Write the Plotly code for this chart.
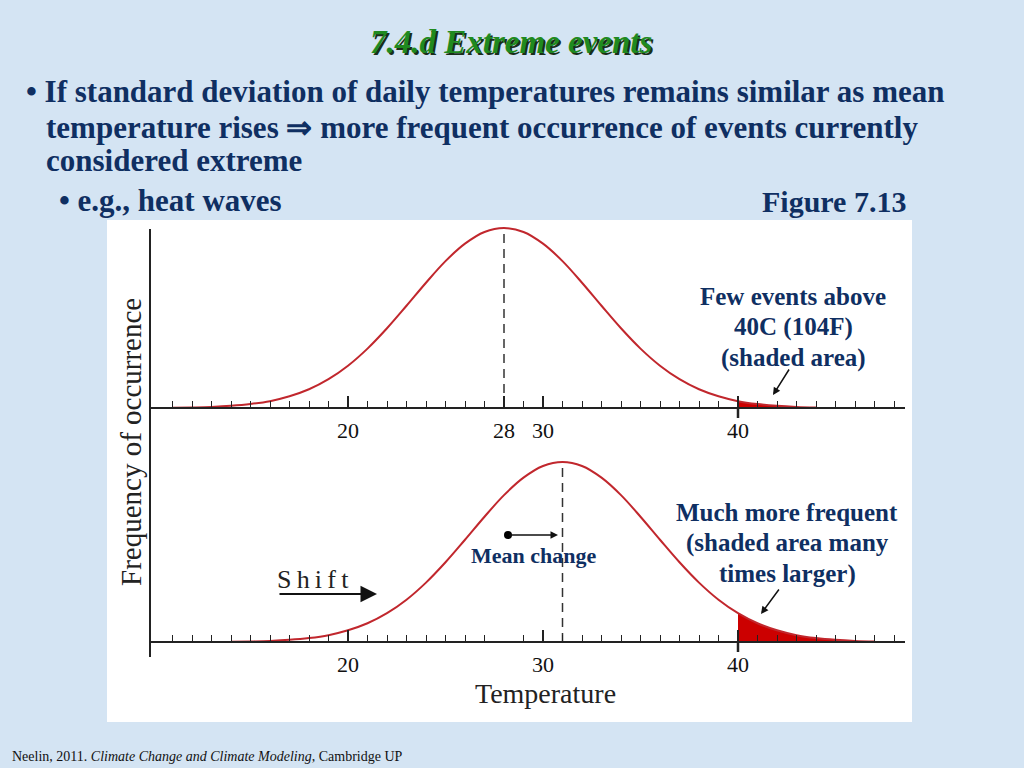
import plotly.graph_objects as go

# ---------------- data ----------------
temps_now = [11, 12, 13, 14, 15, 16, 17, 18, 19, 20, 21, 22, 23, 24, 25, 26, 27, 28,
             29, 30, 31, 32, 33, 34, 35, 36, 37, 38, 39, 40, 41, 42, 43, 44]
freq_now = [0.001, 0.003, 0.006, 0.012, 0.022, 0.038, 0.065, 0.104, 0.160, 0.235,
            0.330, 0.443, 0.568, 0.696, 0.816, 0.913, 0.978, 1.000, 0.978, 0.913,
            0.816, 0.696, 0.568, 0.443, 0.330, 0.235, 0.160, 0.104, 0.065, 0.038,
            0.022, 0.012, 0.006, 0.003]

temps_future = [14, 15, 16, 17, 18, 19, 20, 21, 22, 23, 24, 25, 26, 27, 28, 29, 30, 31,
                32, 33, 34, 35, 36, 37, 38, 39, 40, 41, 42, 43, 44, 45, 46, 47]
freq_future = [0.001, 0.003, 0.006, 0.012, 0.022, 0.038, 0.065, 0.104, 0.160, 0.235,
               0.330, 0.443, 0.568, 0.696, 0.816, 0.913, 0.978, 1.000, 0.978, 0.913,
               0.816, 0.696, 0.568, 0.443, 0.330, 0.235, 0.160, 0.104, 0.065, 0.038,
               0.022, 0.012, 0.006, 0.003]

mean_now = 28
mean_future = 31
threshold = 40

top_tickvals = [20, 28, 30, 40]
top_ticktext = ["20", "28", "30", "40"]
bottom_tickvals = [20, 30, 40]
bottom_ticktext = ["20", "30", "40"]
minor_ticks = [11, 12, 13, 14, 15, 16, 17, 18, 19, 21, 22, 23, 24, 25, 26, 27, 29,
               31, 32, 33, 34, 35, 36, 37, 38, 39, 41, 42, 43, 44, 45, 46, 47, 48]

# ---------------- layout helpers ----------------
W, H = 1024, 768
def X(px):
    return px / W
def Y(py):
    return 1 - py / H

PX_PER_UNIT = 19.5
def val_at(px):
    return 20 + (px - 348) / PX_PER_UNIT

x_range = [val_at(150), val_at(905)]
x_domain = [X(150), X(905)]

top_base, bot_base, height_px = 408, 642, 180
top_dom = [Y(422), Y(222)]
top_rng = [(top_base - 422) / height_px, (top_base - 222) / height_px]
bot_dom = [Y(660), Y(455)]
bot_rng = [(bot_base - 660) / height_px, (bot_base - 455) / height_px]

CURVE = "#c1272d"
FILL = "#cc0000"
NAVY = "#0f2f62"
SERIF = "Liberation Serif"

fig = go.Figure()

def add_panel(temps, freq, mean, xa, ya):
    sub_x = [t for t in temps if t >= threshold]
    sub_y = [f for t, f in zip(temps, freq) if t >= threshold]
    fig.add_trace(go.Scatter(x=sub_x, y=sub_y, mode="lines", fill="tozeroy",
                             fillcolor=FILL, line=dict(width=0, shape="spline", color=FILL),
                             xaxis=xa, yaxis=ya, hoverinfo="skip", showlegend=False))
    fig.add_trace(go.Scatter(x=temps, y=freq, mode="lines",
                             line=dict(color=CURVE, width=2, shape="spline"),
                             xaxis=xa, yaxis=ya, hoverinfo="skip", showlegend=False))
    peak = max(freq)
    fig.add_trace(go.Scatter(x=[mean, mean], y=[0, peak], mode="lines",
                             line=dict(color="#333333", width=1.5, dash="9px,6px"),
                             xaxis=xa, yaxis=ya, hoverinfo="skip", showlegend=False))
    # threshold tick extending below axis
    fig.add_trace(go.Scatter(x=[threshold, threshold], y=[0, -10 / height_px], mode="lines",
                             line=dict(color="#222222", width=2.5),
                             xaxis=xa, yaxis=ya, hoverinfo="skip", showlegend=False))

add_panel(temps_now, freq_now, mean_now, "x", "y")
add_panel(temps_future, freq_future, mean_future, "x2", "y2")

# mean change dot
fig.add_trace(go.Scatter(x=[val_at(508)], y=[(bot_base - 535) / height_px], mode="markers",
                         marker=dict(color="black", size=8), xaxis="x2", yaxis="y2",
                         hoverinfo="skip", showlegend=False))

axis_common = dict(domain=x_domain, range=x_range, anchor="free", showline=True,
                   linecolor="#222222", linewidth=2, ticks="inside", ticklen=11,
                   tickwidth=1.5, tickcolor="#222222", showgrid=False, zeroline=False,
                   tickfont=dict(family=SERIF, size=22, color="#111111"),
                   ticklabelstandoff=3,
                   minor=dict(tickmode="array", tickvals=minor_ticks, ticks="inside",
                              ticklen=6, tickwidth=1.3, tickcolor="#222222", showgrid=False))

fig.update_layout(
    width=W, height=H, margin=dict(l=0, r=0, t=0, b=0),
    paper_bgcolor="#d4e4f3", plot_bgcolor="rgba(0,0,0,0)",
    xaxis=dict(**axis_common, position=Y(top_base), tickvals=top_tickvals,
               ticktext=top_ticktext),
    yaxis=dict(domain=top_dom, range=top_rng, visible=False, anchor="x"),
    xaxis2=dict(**axis_common, position=Y(bot_base), tickvals=bottom_tickvals,
                ticktext=bottom_ticktext),
    yaxis2=dict(domain=bot_dom, range=bot_rng, visible=False, anchor="x2"),
    showlegend=False,
)

# white figure panel and y axis line
fig.add_shape(type="rect", xref="paper", yref="paper", x0=X(107), x1=X(912), y0=Y(722), y1=Y(220),
              fillcolor="white", line=dict(width=0), layer="below")
fig.add_shape(type="line", xref="paper", yref="paper", x0=X(150), x1=X(150), y0=Y(657), y1=Y(229),
              line=dict(color="#222222", width=2))

ann = []
def text_ann(t, px, py, size, color, xanchor="center", angle=0):
    ann.append(dict(text=t, x=X(px), y=Y(py), xref="paper", yref="paper",
                    xanchor=xanchor, yanchor="middle", textangle=angle, showarrow=False,
                    font=dict(family=SERIF, size=size, color=color)))

# title with shadow
text_ann("<b><i>7.4.d Extreme events</i></b>", 513, 44, 33, "#1a2e1a")
text_ann("<b><i>7.4.d Extreme events</i></b>", 511, 42, 33, "#1f8a1f")

bullets = [
    (24, 92, "• If standard deviation of daily temperatures remains similar as mean"),
    (44, 127, "temperature rises ⇒ more frequent occurrence of events currently"),
    (44, 161, "considered extreme"),
    (57, 200, "• e.g., heat waves"),
]
for bx, by, t in bullets:
    text_ann("<b>" + t + "</b>", bx, by, 31, NAVY, xanchor="left")
text_ann("<b>Figure 7.13</b>", 834, 201, 30, NAVY)

# axis titles
text_ann("Frequency of occurrence", 131, 442, 29, "#222222", angle=-90)
text_ann("Temperature", 545, 693, 28, "#222222")

# callouts
for i, t in enumerate(["Few events above", "40C (104F)", "(shaded area)"]):
    text_ann("<b>" + t + "</b>", 793, 296 + 31 * i, 25, NAVY)
for i, t in enumerate(["Much more frequent", "(shaded area many", "times larger)"]):
    text_ann("<b>" + t + "</b>", 787, 512 + 31 * i, 25, NAVY)
text_ann("<b>Mean change</b>", 534, 555, 22, NAVY)
text_ann("S\u2009h\u2009i\u2009f\u2009t", 313, 579, 26, "#222222")

# arrows
def arrow(x0px, y0px, x1px, y1px, base, xa, ya, width=1.5, size=1.0):
    ann.append(dict(x=val_at(x1px), y=(base - y1px) / height_px,
                    ax=val_at(x0px), ay=(base - y0px) / height_px,
                    xref=xa, yref=ya, axref=xa, ayref=ya, text="", showarrow=True,
                    arrowhead=2, arrowsize=size, arrowwidth=width, arrowcolor="#111111"))

arrow(790, 368, 773, 395, top_base, "x", "y")
arrow(780, 588, 761, 614, bot_base, "x2", "y2")
arrow(508, 535, 558, 535, bot_base, "x2", "y2")
arrow(278, 594, 377, 594, bot_base, "x2", "y2", width=2.2, size=1.5)

# footer
ann.append(dict(text="Neelin, 2011. <i>Climate Change and Climate Modeling</i>, Cambridge UP",
                x=X(10), y=Y(756), xref="paper", yref="paper", xanchor="left", yanchor="middle",
                showarrow=False, font=dict(family=SERIF, size=14, color="#111111")))

fig.update_layout(annotations=ann)
fig.write_html("out.html", config={"displayModeBar": False},
               post_script="document.body.style.margin='0';document.body.style.overflow='hidden';")
